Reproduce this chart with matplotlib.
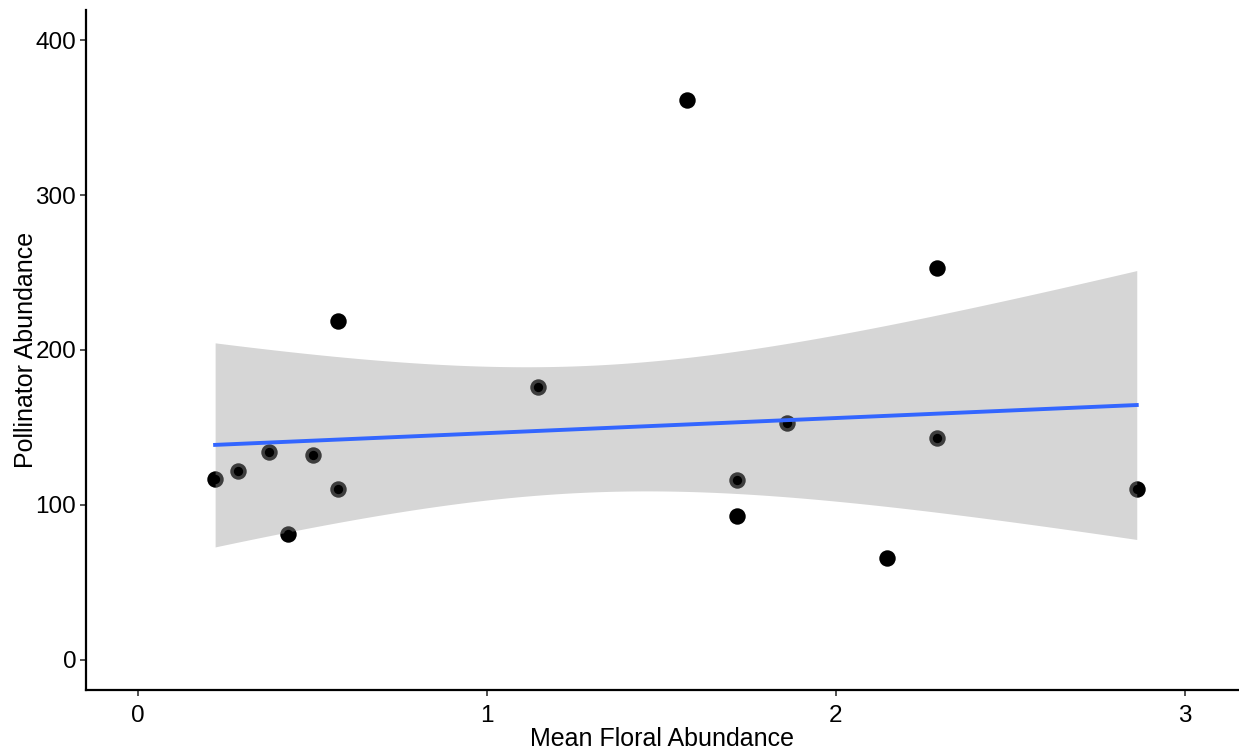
import matplotlib.pyplot as plt
import numpy as np

plt.rcParams['font.family'] = ['Liberation Sans', 'DejaVu Sans']

# values
floral = [0.221, 0.287, 0.375, 0.430, 0.501, 0.573, 0.573, 1.146,
          1.573, 1.716, 1.716, 1.860, 2.146, 2.289, 2.289, 2.862]
pollinators = [117, 122, 134, 81, 132, 219, 110, 176,
               361, 116, 93, 153, 66, 253, 143, 110]
x_ticks = [0, 1, 2, 3]
y_ticks = [0, 100, 200, 300, 400]

x = np.array(floral)
y = np.array(pollinators, dtype=float)

# linear fit with 95% confidence band (like geom_smooth(method = "lm"))
n = len(x)
b1, b0 = np.polyfit(x, y, 1)
resid = y - (b0 + b1 * x)
s = np.sqrt(np.sum(resid ** 2) / (n - 2))
t_crit = 2.1448  # t(0.975, df = 14)
xs = np.linspace(x.min(), x.max(), 200)
fit = b0 + b1 * xs
se = s * np.sqrt(1 / n + (xs - x.mean()) ** 2 / np.sum((x - x.mean()) ** 2))
lo = fit - t_crit * se
hi = fit + t_crit * se

fig = plt.figure(figsize=(12.39, 7.5), dpi=100)
ax = fig.add_axes([0.0694, 0.08, 0.9306, 0.9067])

ax.scatter(x, y, s=140, color='black', linewidths=0, zorder=2)
ax.fill_between(xs, lo, hi, color='#999999', alpha=0.4, linewidth=0, zorder=3)
ax.scatter(x, y, s=45, color='black', linewidths=0, zorder=4)
ax.plot(xs, fit, color='#3366FF', linewidth=2.8, zorder=5)

ax.set_xlim(-0.149, 3.155)
ax.set_ylim(-19.4, 419.4)
ax.set_xticks(x_ticks)
ax.set_yticks(y_ticks)

for side in ['top', 'right']:
    ax.spines[side].set_visible(False)
for side in ['left', 'bottom']:
    ax.spines[side].set_linewidth(1.6)
    ax.spines[side].set_color('black')
ax.tick_params(length=4, width=1.2, color='#333333', labelsize=17.5, labelcolor='black')
ax.tick_params(axis='x', pad=7)
ax.tick_params(axis='y', pad=3)

ax.set_xlabel('Mean Floral Abundance', fontsize=18, labelpad=0)
ax.set_ylabel('Pollinator Abundance', fontsize=18, labelpad=-2)

fig.savefig('out.png', dpi=100)
